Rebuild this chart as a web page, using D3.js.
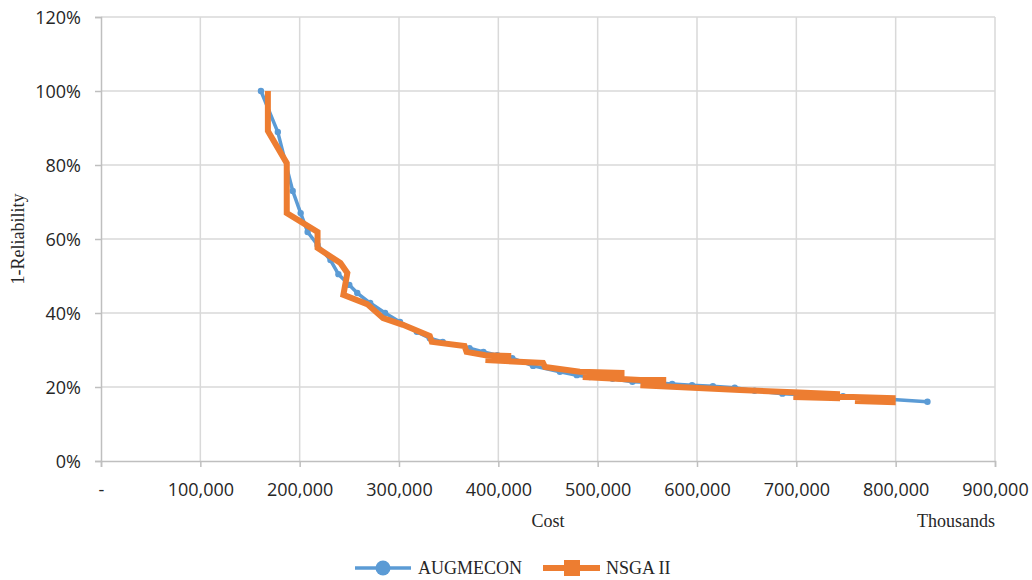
<!DOCTYPE html>
<html>
<head>
<meta charset="utf-8">
<script src="https://cdn.jsdelivr.net/npm/d3@7"></script>
<style>
  html, body { margin: 0; padding: 0; background: #fff; }
  svg { display: block; }
</style>
</head>
<body>
<svg id="chart" width="1032" height="580"></svg>
<script>
// Pareto fronts: cost (thousands) vs 1-reliability
const augmeconCost = [161000, 178000, 193000, 201000, 208000, 218000, 231000, 239000, 250000, 258000,
  271000, 286000, 301000, 318000, 331000, 344000, 371000, 385000, 399000, 414000,
  435000, 462000, 479000, 492000, 515000, 535000, 555000, 575000, 595000, 616000,
  638000, 658000, 686000, 719000, 747000, 774000, 797000, 832000];
const augmeconRisk = [1.00, 0.889, 0.730, 0.670, 0.619, 0.584, 0.543, 0.505, 0.476, 0.454,
  0.427, 0.400, 0.376, 0.349, 0.332, 0.322, 0.305, 0.295, 0.286, 0.278,
  0.257, 0.241, 0.232, 0.227, 0.222, 0.214, 0.212, 0.208, 0.205, 0.202,
  0.198, 0.190, 0.182, 0.178, 0.175, 0.170, 0.166, 0.160];

const nsgaCost = [168000, 168000, 187000, 187000, 218000, 218000, 241000, 248000, 244000, 268000,
  284000, 304000, 331000, 333000, 366000, 368000, 387000, 410000, 410000, 387000,
  445000, 447000, 482000, 524000, 524000, 485000, 543000, 566000, 566000, 543000,
  580000, 643000, 697000, 741000, 741000, 697000, 757000, 797000, 797000, 759000];
const nsgaRisk = [1.00, 0.892, 0.805, 0.670, 0.619, 0.576, 0.535, 0.508, 0.449, 0.424,
  0.386, 0.368, 0.338, 0.322, 0.311, 0.295, 0.286, 0.284, 0.270, 0.273,
  0.265, 0.254, 0.241, 0.238, 0.224, 0.227, 0.219, 0.219, 0.203, 0.205,
  0.200, 0.192, 0.186, 0.181, 0.170, 0.173, 0.173, 0.170, 0.159, 0.162];

const xTicks = [0, 100000, 200000, 300000, 400000, 500000, 600000, 700000, 800000, 900000];
const yTicks = [0, 0.2, 0.4, 0.6, 0.8, 1.0, 1.2];

const seriesNames = ["AUGMECON", "NSGA II"];
const seriesColors = ["#5b9bd5", "#ed7d31"];

const svg = d3.select("#chart");
const margin = { left: 101, right: 37, top: 17, bottom: 119 };
const W = 1032, H = 580;

const x = d3.scaleLinear().domain([0, 900000]).range([margin.left, W - margin.right]);
const y = d3.scaleLinear().domain([0, 1.2]).range([H - margin.bottom, margin.top]);

const tickFont = "'Open Sans', 'Liberation Sans', sans-serif";
const serifFont = "'Liberation Serif', 'Times New Roman', serif";
const textColor = "#262626";

// gridlines
svg.append("g").selectAll("line.hg").data(yTicks.filter(d => d > 0)).join("line")
  .attr("x1", x(0)).attr("x2", x(900000))
  .attr("y1", d => y(d)).attr("y2", d => y(d))
  .attr("stroke", "#d9d9d9").attr("stroke-width", 1.5);
svg.append("g").selectAll("line.vg").data(xTicks.filter(d => d > 0)).join("line")
  .attr("x1", d => x(d)).attr("x2", d => x(d))
  .attr("y1", y(0)).attr("y2", y(1.2))
  .attr("stroke", "#d9d9d9").attr("stroke-width", 1.5);

// axes
const xAxis = d3.axisBottom(x).tickValues(xTicks).tickSize(6).tickPadding(16)
  .tickFormat(d => d === 0 ? "-" : d3.format(",")(d));
const yAxis = d3.axisLeft(y).tickValues(yTicks).tickSize(6).tickPadding(14)
  .tickFormat(d3.format(".0%"));

const gx = svg.append("g").attr("transform", `translate(0,${y(0)})`).call(xAxis);
const gy = svg.append("g").attr("transform", `translate(${x(0)},0)`).call(yAxis);
[gx, gy].forEach(g => {
  g.select(".domain").attr("stroke", "#bfbfbf").attr("stroke-width", 1.5);
  g.selectAll(".tick line").attr("stroke", "#bfbfbf").attr("stroke-width", 1.5);
  g.selectAll(".tick text").attr("fill", textColor)
    .style("font-family", tickFont).style("font-size", "18px");
});
gy.selectAll(".tick text").attr("dy", "0.34em");

// axis titles
svg.append("text").attr("x", (x(0) + x(900000)) / 2).attr("y", 527)
  .attr("text-anchor", "middle").attr("fill", textColor)
  .style("font-family", serifFont).style("font-size", "18px").text("Cost");
svg.append("text").attr("x", x(900000)).attr("y", 527)
  .attr("text-anchor", "end").attr("fill", textColor)
  .style("font-family", serifFont).style("font-size", "18px").text("Thousands");
svg.append("text")
  .attr("transform", `translate(24,${(y(0) + y(1.2)) / 2}) rotate(-90)`)
  .attr("text-anchor", "middle").attr("fill", textColor)
  .style("font-family", serifFont).style("font-size", "18px").text("1-Reliability");

// series
const line = d3.line().x(d => x(d[0])).y(d => y(d[1]));
const augData = augmeconCost.map((c, i) => [c, augmeconRisk[i]]);
const nsgaData = nsgaCost.map((c, i) => [c, nsgaRisk[i]]);

svg.append("path").datum(augData).attr("d", line)
  .attr("fill", "none").attr("stroke", seriesColors[0]).attr("stroke-width", 3.5)
  .attr("stroke-linejoin", "round").attr("stroke-linecap", "round");
svg.append("g").selectAll("circle").data(augData).join("circle")
  .attr("cx", d => x(d[0])).attr("cy", d => y(d[1])).attr("r", 3.2)
  .attr("fill", seriesColors[0]);

svg.append("path").datum(nsgaData).attr("d", line)
  .attr("fill", "none").attr("stroke", seriesColors[1]).attr("stroke-width", 6)
  .attr("stroke-linejoin", "miter").attr("stroke-miterlimit", 4);

// legend
const legY = 568;
const leg = svg.append("g");
leg.append("line").attr("x1", 355).attr("x2", 411).attr("y1", legY).attr("y2", legY)
  .attr("stroke", seriesColors[0]).attr("stroke-width", 3.5);
leg.append("circle").attr("cx", 383).attr("cy", legY).attr("r", 7.5).attr("fill", seriesColors[0]);
leg.append("text").attr("x", 418).attr("y", legY).attr("dy", "0.34em")
  .attr("fill", textColor).style("font-family", serifFont).style("font-size", "18px")
  .text(seriesNames[0]);
leg.append("line").attr("x1", 543).attr("x2", 600).attr("y1", legY).attr("y2", legY)
  .attr("stroke", seriesColors[1]).attr("stroke-width", 6);
leg.append("rect").attr("x", 564).attr("y", legY - 8).attr("width", 16).attr("height", 16)
  .attr("fill", seriesColors[1]);
leg.append("text").attr("x", 606).attr("y", legY).attr("dy", "0.34em")
  .attr("fill", textColor).style("font-family", serifFont).style("font-size", "18px")
  .text(seriesNames[1]);
</script>
</body>
</html>
